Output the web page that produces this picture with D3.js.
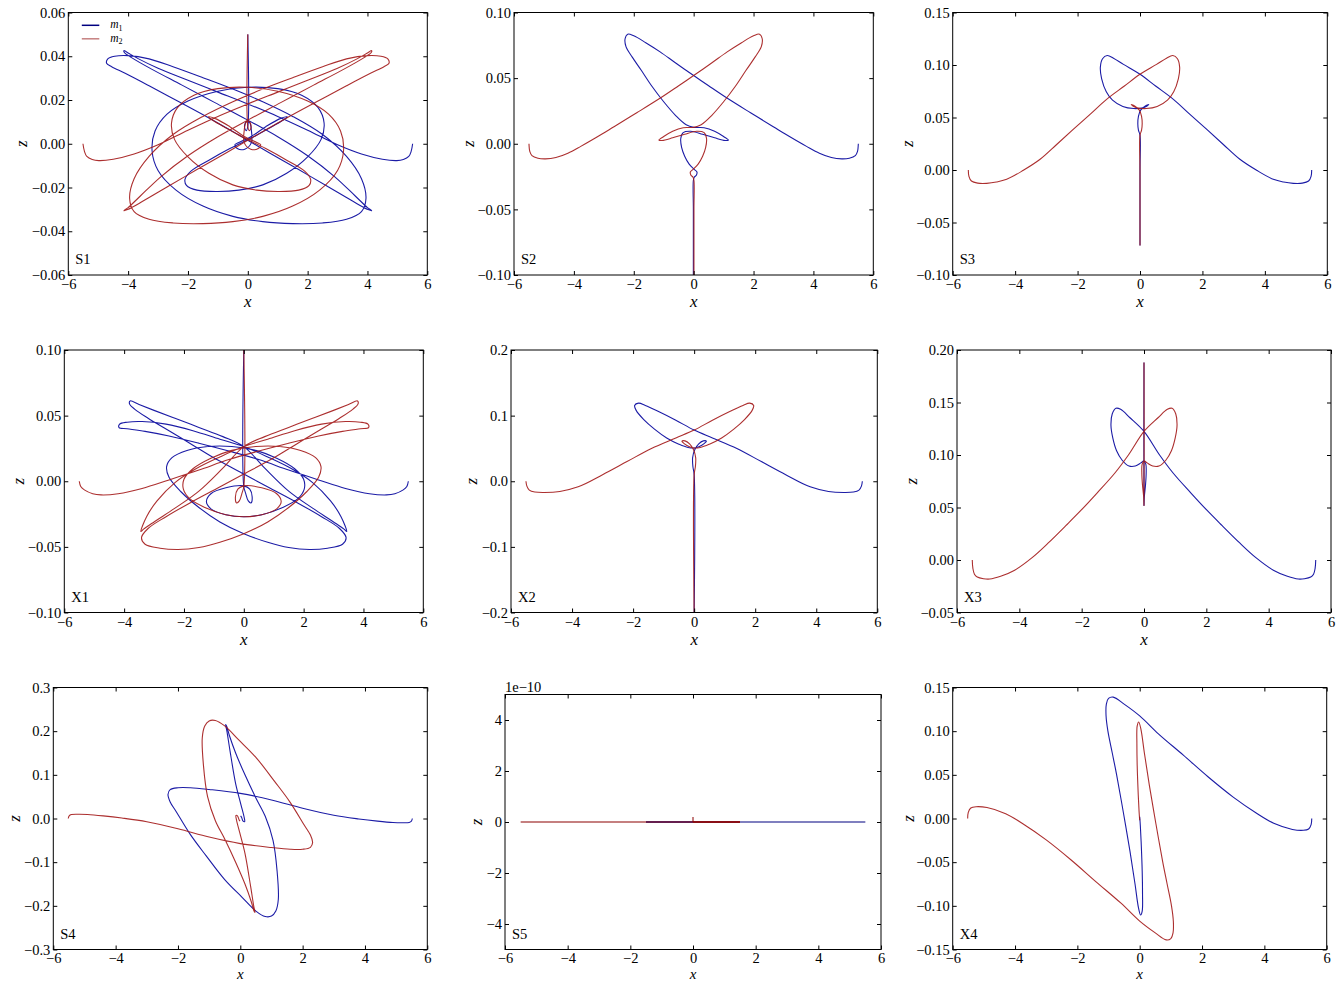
<!DOCTYPE html>
<html>
<head>
<meta charset="utf-8">
<script src="https://cdn.jsdelivr.net/npm/d3@7"></script>
<style>
  body { margin: 0; background: #fff; }
  svg { display: block; }
  text { font-family: "Liberation Serif", "DejaVu Serif", serif; }
</style>
</head>
<body>
<svg id="fig" width="1340" height="981"></svg>
<script>
// ---- tick values ----
const X_TICKS = [-6, -4, -2, 0, 2, 4, 6];
const S1_Z_TICKS = [-0.06, -0.04, -0.02, 0, 0.02, 0.04, 0.06];
const S2_Z_TICKS = [-0.10, -0.05, 0, 0.05, 0.10];
const S3_Z_TICKS = [-0.10, -0.05, 0, 0.05, 0.10, 0.15];
const X1_Z_TICKS = [-0.10, -0.05, 0, 0.05, 0.10];
const X2_Z_TICKS = [-0.2, -0.1, 0, 0.1, 0.2];
const X3_Z_TICKS = [-0.05, 0, 0.05, 0.10, 0.15, 0.20];
const S4_Z_TICKS = [-0.3, -0.2, -0.1, 0, 0.1, 0.2, 0.3];
const S5_Z_TICKS = [-4e-10, -2e-10, 0, 2e-10, 4e-10];
const X4_Z_TICKS = [-0.15, -0.10, -0.05, 0, 0.05, 0.10, 0.15];

// ---- trajectories [x, z] ----
const S1_m1 = [[5.51,0.0],[5.46,-0.0035],[5.38,-0.0058],[5.2,-0.0072],[4.98,-0.0077],[4.5,-0.0071],[3.8,-0.0047],[3.0,-0.0005],[2.0,0.0062],[1.0,0.0125],[0.0,0.0182],[-1.0,0.0236],[-2.0,0.0290],[-3.0,0.0345],[-3.65,0.0388],[-4.0,0.0415],[-4.14,0.0426],
  [-4.12,0.0416],[-3.9,0.0395],[-3.2,0.0340],[-2.2,0.0268],[-1.1,0.0188],[0.0,0.0108],[1.0,0.0032],[2.0,-0.0055],[2.9,-0.0150],[3.6,-0.0240],[4.0,-0.0292],[4.14,-0.0306],
  [4.02,-0.0301],[3.5,-0.0262],[2.7,-0.0198],[1.7,-0.0118],[0.7,-0.0040],[-0.3,0.0040],[-1.3,0.0118],[-2.3,0.0192],[-3.3,0.0265],[-4.1,0.0322],[-4.55,0.0352],[-4.72,0.0368],
  [-4.68,0.0388],[-4.45,0.0400],[-4.0,0.0403],[-3.3,0.0388],[-2.5,0.0352],[-1.5,0.0302],[-0.5,0.0250],[0.5,0.0192],[1.5,0.0125],[2.5,0.0042],[3.3,-0.0058],[3.8,-0.0160],[3.95,-0.0250],[3.8,-0.0310],[3.3,-0.0345],[2.5,-0.0362],[1.5,-0.0365],[0.5,-0.0356],[-0.5,-0.0332],[-1.5,-0.0285],[-2.4,-0.0212],[-3.0,-0.0122],[-3.2,-0.0032],[-3.1,0.0058],[-2.7,0.0135],[-2.0,0.0195],[-1.0,0.0240],[0.0,0.0258],[1.0,0.0252],[1.8,0.0222],[2.35,0.0165],[2.55,0.0095],[2.45,0.0020],[2.0,-0.0060],[1.3,-0.0135],[0.5,-0.0188],[-0.3,-0.0212],[-1.0,-0.0218],[-1.7,-0.0212],[-2.05,-0.0190],[-2.1,-0.0163],[-1.9,-0.0125],[-1.3,-0.0075],[-0.6,-0.0022],[0.2,0.0032],[0.8,0.0078],[1.2,0.0110],[1.32,0.0123],[1.1,0.0116],[0.6,0.0078],[0.1,0.0032],[-0.3,0.0006],[-0.43,-0.0004],[-0.35,-0.0022],[-0.1,-0.0025],[0.12,0.0005],[0.12,0.0060],[0.06,0.0098],[-0.05,0.0102],[-0.11,0.0075],[-0.05,0.0060],[0.0,0.0080],[0.0,0.0500]];
const S1_m2 = [[-5.51,0.0],[-5.46,-0.0035],[-5.38,-0.0058],[-5.2,-0.0072],[-4.98,-0.0077],[-4.5,-0.0071],[-3.8,-0.0047],[-3.0,-0.0005],[-2.0,0.0062],[-1.0,0.0125],[0.0,0.0182],[1.0,0.0236],[2.0,0.0290],[3.0,0.0345],[3.65,0.0388],[4.0,0.0415],[4.14,0.0426],
  [4.12,0.0416],[3.9,0.0395],[3.2,0.0340],[2.2,0.0268],[1.1,0.0188],[0.0,0.0108],[-1.0,0.0032],[-2.0,-0.0055],[-2.9,-0.0150],[-3.6,-0.0240],[-4.0,-0.0292],[-4.14,-0.0306],
  [-4.02,-0.0301],[-3.5,-0.0262],[-2.7,-0.0198],[-1.7,-0.0118],[-0.7,-0.0040],[0.3,0.0040],[1.3,0.0118],[2.3,0.0192],[3.3,0.0265],[4.1,0.0322],[4.55,0.0352],[4.72,0.0368],
  [4.68,0.0388],[4.45,0.0400],[4.0,0.0403],[3.3,0.0388],[2.5,0.0352],[1.5,0.0302],[0.5,0.0250],[-0.5,0.0192],[-1.5,0.0125],[-2.5,0.0042],[-3.3,-0.0058],[-3.8,-0.0160],[-3.95,-0.0250],[-3.8,-0.0310],[-3.3,-0.0345],[-2.5,-0.0362],[-1.5,-0.0365],[-0.5,-0.0356],[0.5,-0.0332],[1.5,-0.0285],[2.4,-0.0212],[3.0,-0.0122],[3.2,-0.0032],[3.1,0.0058],[2.7,0.0135],[2.0,0.0195],[1.0,0.0240],[0.0,0.0258],[-1.0,0.0252],[-1.8,0.0222],[-2.35,0.0165],[-2.55,0.0095],[-2.45,0.0020],[-2.0,-0.0060],[-1.3,-0.0135],[-0.5,-0.0188],[0.3,-0.0212],[1.0,-0.0218],[1.7,-0.0212],[2.05,-0.0190],[2.1,-0.0163],[1.9,-0.0125],[1.3,-0.0075],[0.6,-0.0022],[-0.2,0.0032],[-0.8,0.0078],[-1.2,0.0110],[-1.32,0.0123],[-1.1,0.0116],[-0.6,0.0078],[-0.1,0.0032],[0.3,0.0006],[0.43,-0.0004],[0.35,-0.0022],[0.1,-0.0025],[-0.12,0.0005],[-0.12,0.0060],[-0.06,0.0098],[0.05,0.0102],[0.11,0.0075],[0.05,0.0060],[0.0,0.0080],[0.0,0.0500]];

const S2_m1 = [[5.50,0.000],[5.47,-0.006],[5.40,-0.009],[5.20,-0.011],[4.95,-0.0115],[4.60,-0.0105],[4.20,-0.0072],[3.77,-0.0020],[3.20,0.0055],[2.66,0.0130],[1.90,0.0236],[1.10,0.0350],[0.50,0.0442],[0.00,0.0520],[-0.60,0.0615],[-1.12,0.0700],[-1.60,0.0770],[-2.00,0.0822],[-2.20,0.0835],[-2.29,0.080],[-2.26,0.074],[-2.05,0.066],[-1.75,0.056],[-1.40,0.044],[-1.00,0.032],[-0.60,0.0215],[-0.25,0.0145],[0.00,0.0125],[0.35,0.0122],[0.70,0.0095],[1.00,0.0055],[1.16,0.0028],[1.05,0.0025],[0.70,0.0045],[0.30,0.0072],[-0.10,0.0095],[-0.35,0.0085],[-0.43,0.004],[-0.40,-0.003],[-0.30,-0.0095],[-0.15,-0.0155],[0.02,-0.0195],[0.11,-0.0215],[0.09,-0.024],[0.02,-0.0255],[-0.01,-0.028],[-0.01,-0.05],[-0.01,-0.1]];
const S2_m2 = [[-5.50,0.000],[-5.47,-0.006],[-5.40,-0.009],[-5.20,-0.011],[-4.95,-0.0115],[-4.60,-0.0105],[-4.20,-0.0072],[-3.77,-0.0020],[-3.20,0.0055],[-2.66,0.0130],[-1.90,0.0236],[-1.10,0.0350],[-0.50,0.0442],[0.00,0.0520],[0.60,0.0615],[1.12,0.0700],[1.60,0.0770],[2.00,0.0822],[2.20,0.0835],[2.29,0.080],[2.26,0.074],[2.05,0.066],[1.75,0.056],[1.40,0.044],[1.00,0.032],[0.60,0.0215],[0.25,0.0145],[0.00,0.0125],[-0.35,0.0122],[-0.70,0.0095],[-1.00,0.0055],[-1.16,0.0028],[-1.05,0.0025],[-0.70,0.0045],[-0.30,0.0072],[0.10,0.0095],[0.35,0.0085],[0.43,0.004],[0.40,-0.003],[0.30,-0.0095],[0.15,-0.0155],[-0.02,-0.0195],[-0.11,-0.0215],[-0.09,-0.024],[-0.02,-0.0255],[0.01,-0.028],[0.01,-0.05],[0.01,-0.1]];

const S3_m1 = [[5.50,0.000],[5.48,-0.006],[5.40,-0.0105],[5.20,-0.0125],[4.91,-0.0127],[4.60,-0.0115],[4.27,-0.0089],[3.75,-0.0005],[3.20,0.0102],[2.67,0.0243],[2.14,0.0387],[1.60,0.053],[1.07,0.0673],[0.50,0.080],[0.00,0.0912],[-0.53,0.1006],[-0.85,0.1065],[-1.05,0.1090],[-1.20,0.1060],[-1.27,0.098],[-1.23,0.087],[-1.08,0.0745],[-0.88,0.0665],[-0.55,0.0605],[-0.20,0.0585],[0.05,0.059],[0.20,0.0605],[0.28,0.0625],[0.15,0.0605],[0.02,0.057],[-0.05,0.051],[-0.07,0.044],[-0.05,0.038],[0.0,0.033],[0.0,0.0],[0.0,-0.072]];
const S3_m2 = [[-5.50,0.000],[-5.48,-0.006],[-5.40,-0.0105],[-5.20,-0.0125],[-4.91,-0.0127],[-4.60,-0.0115],[-4.27,-0.0089],[-3.75,-0.0005],[-3.20,0.0102],[-2.67,0.0243],[-2.14,0.0387],[-1.60,0.053],[-1.07,0.0673],[-0.50,0.080],[0.00,0.0912],[0.53,0.1006],[0.85,0.1065],[1.05,0.1090],[1.20,0.1060],[1.27,0.098],[1.23,0.087],[1.08,0.0745],[0.88,0.0665],[0.55,0.0605],[0.20,0.0585],[-0.05,0.059],[-0.20,0.0605],[-0.28,0.0625],[-0.15,0.0605],[-0.02,0.057],[0.05,0.051],[0.07,0.044],[0.05,0.038],[0.0,0.033],[0.0,0.0],[0.0,-0.072]];

const X1_m1 = [[5.50,0.0],[5.45,-0.0040],[5.33,-0.0066],[5.05,-0.0095],[4.77,-0.0104],[4.2,-0.0095],[3.4,-0.0055],[2.5,0.0010],[1.5,0.0085],[0.5,0.0165],[-0.5,0.0230],[-1.5,0.0290],[-2.5,0.0345],[-3.3,0.0380],[-3.9,0.0400],[-4.17,0.0409],
  [-4.15,0.0435],[-3.9,0.0450],[-3.4,0.0455],[-2.6,0.0435],[-1.7,0.0385],[-0.8,0.0320],[0.0,0.0264],[0.8,0.0185],[1.6,0.0095],[2.3,-0.0010],[2.9,-0.0150],[3.25,-0.0270],[3.44,-0.0383],
  [3.35,-0.0365],[3.0,-0.0310],[2.3,-0.0205],[1.5,-0.0075],[0.7,0.0100],[0.0,0.0264],[-0.7,0.0340],[-1.5,0.0410],[-2.3,0.0480],[-3.0,0.0540],[-3.5,0.0585],[-3.8,0.0612],
  [-3.82,0.0590],[-3.65,0.0550],[-3.2,0.0480],[-2.5,0.0385],[-1.7,0.0275],[-0.9,0.0165],[0.0,0.0055],[0.9,-0.0055],[1.8,-0.0165],[2.6,-0.0270],[3.2,-0.0360],[3.42,-0.0430],[3.3,-0.0480],[2.8,-0.0510],[2.2,-0.0520],[1.5,-0.0505],[0.8,-0.0465],[0.0,-0.0400],[-0.8,-0.0310],[-1.5,-0.0200],[-2.1,-0.0080],[-2.5,0.0030],[-2.58,0.0112],[-2.4,0.0180],[-1.9,0.0235],[-1.2,0.0265],[-0.4,0.0265],[0.4,0.0235],[1.1,0.0175],[1.7,0.0095],[2.0,0.0015],[2.02,-0.0060],[1.8,-0.0135],[1.3,-0.0200],[0.6,-0.0255],[0.0,-0.0270],[-0.6,-0.0255],[-1.1,-0.0210],[-1.25,-0.0155],[-1.1,-0.0095],[-0.6,-0.0050],[0.0,-0.0035],[0.2,-0.0060],[0.28,-0.0120],[0.24,-0.0165],[0.15,-0.0150],[0.06,-0.0090],[0.0,-0.0040],[0.0,0.1000]];
const X1_m2 = [[-5.50,0.0],[-5.45,-0.0040],[-5.33,-0.0066],[-5.05,-0.0095],[-4.77,-0.0104],[-4.2,-0.0095],[-3.4,-0.0055],[-2.5,0.0010],[-1.5,0.0085],[-0.5,0.0165],[0.5,0.0230],[1.5,0.0290],[2.5,0.0345],[3.3,0.0380],[3.9,0.0400],[4.17,0.0409],
  [4.15,0.0435],[3.9,0.0450],[3.4,0.0455],[2.6,0.0435],[1.7,0.0385],[0.8,0.0320],[0.0,0.0264],[-0.8,0.0185],[-1.6,0.0095],[-2.3,-0.0010],[-2.9,-0.0150],[-3.25,-0.0270],[-3.44,-0.0383],
  [-3.35,-0.0365],[-3.0,-0.0310],[-2.3,-0.0205],[-1.5,-0.0075],[-0.7,0.0100],[0.0,0.0264],[0.7,0.0340],[1.5,0.0410],[2.3,0.0480],[3.0,0.0540],[3.5,0.0585],[3.8,0.0612],
  [3.82,0.0590],[3.65,0.0550],[3.2,0.0480],[2.5,0.0385],[1.7,0.0275],[0.9,0.0165],[0.0,0.0055],[-0.9,-0.0055],[-1.8,-0.0165],[-2.6,-0.0270],[-3.2,-0.0360],[-3.42,-0.0430],[-3.3,-0.0480],[-2.8,-0.0510],[-2.2,-0.0520],[-1.5,-0.0505],[-0.8,-0.0465],[0.0,-0.0400],[0.8,-0.0310],[1.5,-0.0200],[2.1,-0.0080],[2.5,0.0030],[2.58,0.0112],[2.4,0.0180],[1.9,0.0235],[1.2,0.0265],[0.4,0.0265],[-0.4,0.0235],[-1.1,0.0175],[-1.7,0.0095],[-2.0,0.0015],[-2.02,-0.0060],[-1.8,-0.0135],[-1.3,-0.0200],[-0.6,-0.0255],[0.0,-0.0270],[0.6,-0.0255],[1.1,-0.0210],[1.25,-0.0155],[1.1,-0.0095],[0.6,-0.0050],[0.0,-0.0035],[-0.2,-0.0060],[-0.28,-0.0120],[-0.24,-0.0165],[-0.15,-0.0150],[-0.06,-0.0090],[0.0,-0.0040],[0.0,0.1000]];

const X2_m1 = [[5.51,0.000],[5.48,-0.0075],[5.40,-0.0135],[5.22,-0.0165],[4.90,-0.0172],[4.40,-0.0155],[3.80,-0.0085],[3.00,0.0100],[2.20,0.0300],[1.40,0.0500],[0.60,0.0660],[0.00,0.0780],[-0.60,0.0930],[-1.20,0.1070],[-1.60,0.1155],[-1.82,0.1190],[-1.95,0.1155],[-1.90,0.1080],[-1.65,0.0940],[-1.30,0.0795],[-0.90,0.0660],[-0.50,0.0565],[-0.20,0.0515],[0.05,0.0510],[0.25,0.0550],[0.38,0.0595],[0.40,0.0610],[0.30,0.0615],[0.15,0.0570],[0.02,0.0480],[-0.05,0.0360],[-0.04,0.0220],[0.00,0.0100],[0.00,-0.2000]];
const X2_m2 = [[-5.51,0.000],[-5.48,-0.0075],[-5.40,-0.0135],[-5.22,-0.0165],[-4.90,-0.0172],[-4.40,-0.0155],[-3.80,-0.0085],[-3.00,0.0100],[-2.20,0.0300],[-1.40,0.0500],[-0.60,0.0660],[0.00,0.0780],[0.60,0.0930],[1.20,0.1070],[1.60,0.1155],[1.82,0.1190],[1.95,0.1155],[1.90,0.1080],[1.65,0.0940],[1.30,0.0795],[0.90,0.0660],[0.50,0.0565],[0.20,0.0515],[-0.05,0.0510],[-0.25,0.0550],[-0.38,0.0595],[-0.40,0.0610],[-0.30,0.0615],[-0.15,0.0570],[-0.02,0.0480],[0.05,0.0360],[0.04,0.0220],[0.00,0.0100],[0.00,-0.2000]];

const X3_m1 = [[5.51,0.000],[5.49,-0.008],[5.44,-0.0135],[5.35,-0.0162],[5.15,-0.0178],[4.95,-0.0181],[4.60,-0.0155],[4.15,-0.0097],[3.60,0.0020],[3.08,0.0160],[2.50,0.0330],[2.01,0.0477],[1.50,0.0640],[0.94,0.0826],[0.50,0.1000],[0.00,0.1225],[-0.45,0.1355],[-0.75,0.1435],[-0.90,0.1445],[-1.02,0.139],[-1.06,0.128],[-1.00,0.116],[-0.88,0.104],[-0.70,0.095],[-0.48,0.0895],[-0.28,0.0895],[-0.10,0.0925],[0.00,0.0945],[0.06,0.091],[0.07,0.083],[0.05,0.072],[0.01,0.060],[0.0,0.052],[0.0,0.188]];
const X3_m2 = [[-5.51,0.000],[-5.49,-0.008],[-5.44,-0.0135],[-5.35,-0.0162],[-5.15,-0.0178],[-4.95,-0.0181],[-4.60,-0.0155],[-4.15,-0.0097],[-3.60,0.0020],[-3.08,0.0160],[-2.50,0.0330],[-2.01,0.0477],[-1.50,0.0640],[-0.94,0.0826],[-0.50,0.1000],[0.00,0.1225],[0.45,0.1355],[0.75,0.1435],[0.90,0.1445],[1.02,0.139],[1.06,0.128],[1.00,0.116],[0.88,0.104],[0.70,0.095],[0.48,0.0895],[0.28,0.0895],[0.10,0.0925],[0.00,0.0945],[-0.06,0.091],[-0.07,0.083],[-0.05,0.072],[-0.01,0.060],[0.0,0.052],[0.0,0.188]];

const S4_m1 = [[5.52,0.000],[5.49,-0.0060],[5.42,-0.0090],[5.20,-0.0098],[4.90,-0.0092],[4.40,-0.0060],[3.80,-0.0010],[3.00,0.0075],[2.00,0.0235],[1.00,0.0425],[0.00,0.0575],[-1.00,0.0665],[-1.60,0.0705],[-2.00,0.0705],[-2.25,0.0660],[-2.32,0.0550],[-2.25,0.0380],[-2.05,0.0150],[-1.60,-0.0370],[-1.10,-0.0850],[-0.50,-0.1400],[0.05,-0.1800],[0.50,-0.2120],[0.80,-0.2245],[1.00,-0.2235],[1.14,-0.2120],[1.22,-0.1850],[1.18,-0.1200],[1.05,-0.0500],[0.80,0.0050],[0.50,0.0470],[0.15,0.1000],[-0.15,0.1500],[-0.35,0.1900],[-0.44,0.2120],[-0.47,0.2150],[-0.43,0.2000],[-0.33,0.1550],[-0.15,0.0800],[0.02,0.0320],[0.12,0.0040],[0.14,-0.0070],[0.09,-0.0060],[0.04,0.0030],[0.01,0.0060]];
const S4_m2 = [[-5.52,0.000],[-5.49,0.0060],[-5.42,0.0090],[-5.20,0.0098],[-4.90,0.0092],[-4.40,0.0060],[-3.80,0.0010],[-3.00,-0.0075],[-2.00,-0.0235],[-1.00,-0.0425],[0.00,-0.0575],[1.00,-0.0665],[1.60,-0.0705],[2.00,-0.0705],[2.25,-0.0660],[2.32,-0.0550],[2.25,-0.0380],[2.05,-0.0150],[1.60,0.0370],[1.10,0.0850],[0.50,0.1400],[-0.05,0.1800],[-0.50,0.2120],[-0.80,0.2245],[-1.00,0.2235],[-1.14,0.2120],[-1.22,0.1850],[-1.18,0.1200],[-1.05,0.0500],[-0.80,-0.0050],[-0.50,-0.0470],[-0.15,-0.1000],[0.15,-0.1500],[0.35,-0.1900],[0.44,-0.2120],[0.47,-0.2150],[0.43,-0.2000],[0.33,-0.1550],[0.15,-0.0800],[-0.02,-0.0320],[-0.12,-0.0040],[-0.14,0.0070],[-0.09,0.0060],[-0.04,-0.0030],[-0.01,-0.0060]];

// S5: collinear case, each leg drawn separately (z stays at 0)
const S5_m1 = [[[5.5,0],[-1.5,0]], [[-1.5,0],[0,0]]];
const S5_m2 = [[[-5.5,0],[1.5,0]], [[1.5,0],[0,0]], [[0,0],[1.5,0]], [[0,0],[0,2e-11]]];

const X4_m1 = [[5.52,0.000],[5.50,-0.0070],[5.42,-0.0120],[5.25,-0.0135],[4.90,-0.0125],[4.30,-0.0055],[3.75,0.0060],[3.00,0.0245],[2.20,0.0475],[1.40,0.0725],[0.60,0.0970],[0.00,0.1175],[-0.50,0.1310],[-0.85,0.1390],[-1.00,0.1375],[-1.07,0.1310],[-1.08,0.1180],[-1.02,0.1000],[-0.88,0.0750],[-0.74,0.0500],[-0.52,0.0060],[-0.31,-0.0380],[-0.15,-0.0750],[-0.04,-0.1020],[0.03,-0.1105],[0.08,-0.1060],[0.09,-0.0850],[0.08,-0.0600],[0.05,-0.0300],[0.02,-0.0080],[0.00,0.0020]];
const X4_m2 = [[-5.52,0.000],[-5.50,0.0070],[-5.42,0.0120],[-5.25,0.0135],[-4.90,0.0125],[-4.30,0.0055],[-3.75,-0.0060],[-3.00,-0.0245],[-2.20,-0.0475],[-1.40,-0.0725],[-0.60,-0.0970],[0.00,-0.1175],[0.50,-0.1310],[0.85,-0.1390],[1.00,-0.1375],[1.07,-0.1310],[1.08,-0.1180],[1.02,-0.1000],[0.88,-0.0750],[0.74,-0.0500],[0.52,-0.0060],[0.31,0.0380],[0.15,0.0750],[0.04,0.1020],[-0.03,0.1105],[-0.08,0.1060],[-0.09,0.0850],[-0.08,0.0600],[-0.05,0.0300],[-0.02,0.0080],[0.00,-0.0020]];

// ---- layout ----
const BLUE = '#1c1ca6', RED = '#a31818';
const NAVY = '#000080', DARKRED = '#8b0000';

const PANELS = [
  { name: 'S1', box: [68.3, 12.5, 427.3, 275], zDomain: [-0.06, 0.06], zTicks: S1_Z_TICKS, fmt: '.2f', m1: [S1_m1], m2: [S1_m2], zOff: 46, legend: true },
  { name: 'S2', box: [514, 12.5, 873.3, 275], zDomain: [-0.1, 0.1], zTicks: S2_Z_TICKS, fmt: '.2f', m1: [S2_m1], m2: [S2_m2], zOff: 45 },
  { name: 'S3', box: [952.7, 12.5, 1327.3, 275], zDomain: [-0.1, 0.15], zTicks: S3_Z_TICKS, fmt: '.2f', m1: [S3_m1], m2: [S3_m2], zOff: 45 },
  { name: 'X1', box: [64.3, 350, 423.3, 612.5], zDomain: [-0.1, 0.1], zTicks: X1_Z_TICKS, fmt: '.2f', m1: [X1_m1], m2: [X1_m2], zOff: 45 },
  { name: 'X2', box: [511, 350, 877.3, 612.5], zDomain: [-0.2, 0.2], zTicks: X2_Z_TICKS, fmt: '.1f', m1: [X2_m1], m2: [X2_m2], zOff: 39 },
  { name: 'X3', box: [957, 350, 1331, 612.5], zDomain: [-0.05, 0.2], zTicks: X3_Z_TICKS, fmt: '.2f', m1: [X3_m1], m2: [X3_m2], zOff: 45 },
  { name: 'S4', box: [53.3, 687.5, 427.3, 949.5], zDomain: [-0.3, 0.3], zTicks: S4_Z_TICKS, fmt: '.1f', m1: [S4_m1], m2: [S4_m2], zOff: 38, lastRow: true },
  { name: 'S5', box: [505, 694.5, 881, 949.5], zDomain: [-5e-10, 5e-10], zTicks: S5_Z_TICKS, fmt: 'e10', m1: S5_m1, m2: S5_m2, zOff: 28, lastRow: true, faint: true },
  { name: 'X4', box: [952.7, 687.5, 1326.7, 949.5], zDomain: [-0.15, 0.15], zTicks: X4_Z_TICKS, fmt: '.2f', m1: [X4_m1], m2: [X4_m2], zOff: 44, lastRow: true }
];

const svg = d3.select('#fig');
const defs = svg.append('defs');

function styleAxis(sel) {
  sel.select('.domain').remove();
  sel.attr('font-family', '"Liberation Serif", "DejaVu Serif", serif').attr('font-size', 14.5);
  sel.selectAll('.tick line').attr('stroke', '#000').attr('stroke-width', 1);
  sel.selectAll('.tick text').attr('fill', '#000');
}

PANELS.forEach((p, i) => {
  const [x0, y0, x1, y1] = p.box;
  const xs = d3.scaleLinear().domain([-6, 6]).range([x0, x1]);
  const zs = d3.scaleLinear().domain(p.zDomain).range([y1, y0]);
  const zFmt = p.fmt === 'e10' ? (d => d3.format('d')(Math.round(d / 1e-10))) : d3.format(p.fmt);

  defs.append('clipPath').attr('id', 'clip' + i)
    .append('rect').attr('x', x0).attr('y', y0).attr('width', x1 - x0).attr('height', y1 - y0);

  const g = svg.append('g');
  const plot = g.append('g').attr('clip-path', `url(#clip${i})`);
  const line = d3.line().x(d => xs(d[0])).y(d => zs(d[1])).curve(d3.curveCatmullRom.alpha(0.5));

  p.m1.forEach(seg => plot.append('path').attr('d', line(seg)).attr('fill', 'none')
    .attr('stroke', p.faint ? NAVY : BLUE).attr('stroke-opacity', p.faint ? 0.5 : 1)
    .attr('stroke-width', p.faint ? 2 : 1.1).attr('stroke-linejoin', 'round'));
  p.m2.forEach(seg => plot.append('path').attr('d', line(seg)).attr('fill', 'none')
    .attr('stroke', p.faint ? DARKRED : RED).attr('stroke-opacity', p.faint ? 0.5 : 0.9)
    .attr('stroke-width', p.faint ? 2 : 1.1).attr('stroke-linejoin', 'round'));

  // axes: ticks inward on all four sides
  g.append('g').attr('transform', `translate(0,${y1})`)
    .call(d3.axisBottom(xs).tickValues(X_TICKS).tickFormat(d3.format('d')).tickSizeInner(-4).tickSizeOuter(0).tickPadding(p.lastRow ? 3 : 4))
    .call(styleAxis);
  g.append('g').attr('transform', `translate(0,${y0})`)
    .call(d3.axisTop(xs).tickValues(X_TICKS).tickFormat('').tickSizeInner(-4).tickSizeOuter(0))
    .call(styleAxis);
  g.append('g').attr('transform', `translate(${x0},0)`)
    .call(d3.axisLeft(zs).tickValues(p.zTicks).tickFormat(zFmt).tickSizeInner(-4).tickSizeOuter(0).tickPadding(3))
    .call(styleAxis);
  g.append('g').attr('transform', `translate(${x1},0)`)
    .call(d3.axisRight(zs).tickValues(p.zTicks).tickFormat('').tickSizeInner(-4).tickSizeOuter(0))
    .call(styleAxis);

  g.append('rect').attr('x', x0).attr('y', y0).attr('width', x1 - x0).attr('height', y1 - y0)
    .attr('fill', 'none').attr('stroke', '#000').attr('stroke-width', 1);

  // axis labels
  g.append('text').attr('x', (x0 + x1) / 2).attr('y', p.lastRow ? y1 + 29.5 : y1 + 32).attr('text-anchor', 'middle')
    .attr('font-style', 'italic').attr('font-size', p.lastRow ? 15 : 17).text('x');
  g.append('text').attr('transform', `translate(${x0 - p.zOff},${(y0 + y1) / 2}) rotate(-90)`)
    .attr('text-anchor', 'middle').attr('dy', '0.3em')
    .attr('font-style', 'italic').attr('font-size', 17).text('z');

  // panel name
  g.append('text').attr('x', x0 + 7).attr('y', y1 - 11).attr('font-size', 14.5).text(p.name);

  if (p.fmt === 'e10') {
    g.append('text').attr('x', x0).attr('y', y0 - 3).attr('font-size', 14.5).text('1e\u221210');
  }

  if (p.legend) {
    const items = [{ c: NAVY, o: 1, s: '1' }, { c: DARKRED, o: 0.5, s: '2' }];
    items.forEach((it, k) => {
      const ly = y0 + 12.8 + k * 13.5;
      g.append('line').attr('x1', x0 + 13.5).attr('x2', x0 + 31).attr('y1', ly).attr('y2', ly)
        .attr('stroke', it.c).attr('stroke-opacity', it.o).attr('stroke-width', 1.5);
      const t = g.append('text').attr('x', x0 + 42).attr('y', ly + 3).attr('font-size', 11.5);
      t.append('tspan').attr('font-style', 'italic').text('m');
      t.append('tspan').attr('font-size', 8).attr('dy', 2.5).text(it.s);
    });
  }
});
</script>
</body>
</html>
